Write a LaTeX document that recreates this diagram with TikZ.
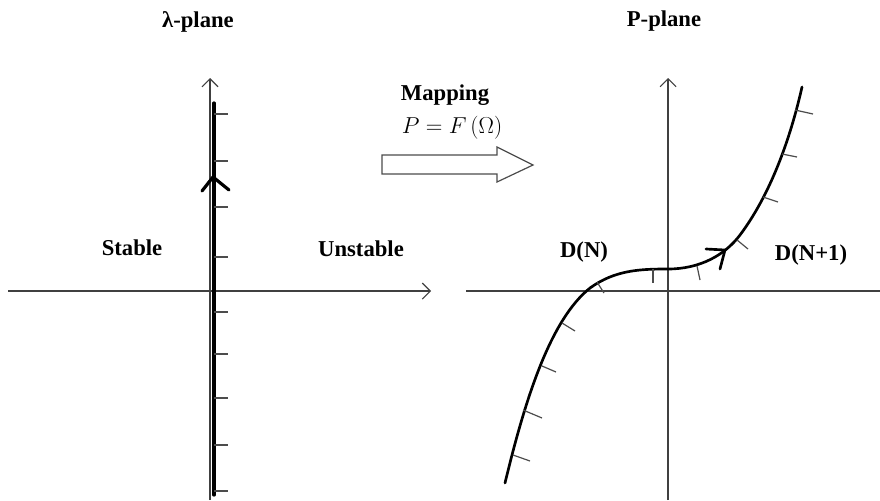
\documentclass[tikz,border=0pt]{standalone}
\usepackage{fontspec}
\setmainfont{Liberation Serif}
\usetikzlibrary{arrows.meta}

\begin{document}
\begin{tikzpicture}[x=0.75pt, y=-0.75pt,
    axis/.style={draw=black!75, line width=0.8pt},
    axisarrow/.style={axis, -{Straight Barb[length=6pt, width=12pt]}},
    thickline/.style={line width=2.4pt, line cap=round, line join=round},
    hatch/.style={draw=black!70, line width=0.9pt},
    txt/.style={font=\fontsize{17}{20}\selectfont\bfseries, inner sep=0pt, anchor=base}
]
    \useasboundingbox (0,0) rectangle (880,500);

    \node[txt] (lplane) at (198,27) {λ-plane};
    \node[txt] (pplane) at (664,26) {P-plane};
    \node[txt] (stable) at (132,255) {Stable};
    \node[txt] (unstable) at (361,256) {Unstable};
    \node[txt] (mapping) at (445,100) {Mapping};
    \node[font=\fontsize{17}{20}\selectfont, inner sep=0pt, anchor=base] (pfo) at (452,133) {$P=F\left(\Omega\right)$};
    \node[txt] (dn) at (584,257) {D(N)};
    \node[txt] (dnone) at (811,260) {D(N+1)};

    \draw[axisarrow] (8,291) -- (431,291);
    \draw[axisarrow] (210,500) -- (210,78);
    \draw[thickline] (214,103) -- (214,495);
    \foreach \y in {114,161,207,257,312,354,398,445,491}
        \draw[hatch] (214,\y) -- (228,\y);
    \draw[thickline] (202,191) -- (213,177) -- (229,190);

    \draw[draw=black!70, line width=0.9pt, fill=white]
        (382,155) -- (497,155) -- (497,147) -- (533,165) -- (497,182) -- (497,174) -- (382,174) -- cycle;

    \draw[axis] (466,291) -- (880,291);
    \draw[axisarrow] (668,500) -- (668,78);
    \draw[line width=2pt, line cap=round]
        (505,483) .. controls (525,400) and (550,320) .. (590,288)
        .. controls (615,270) and (640,269) .. (668,269)
        .. controls (700,269) and (725,255) .. (740,235)
        .. controls (770,195) and (790,140) .. (802,87);
    \foreach \xa/\ya/\xb/\yb in {513/455/530/461, 523/410/542/418, 542/366/556/372, 562/323/575/331,
                                 597/282/604/293, 653/269/653/283, 697/266/700/280,
                                 737/240/748/249, 763/197/778/202, 782/154/797/157, 795/110/813/114}
        \draw[hatch] (\xa,\ya) -- (\xb,\yb);
    \draw[line width=2pt, line cap=round, line join=round] (706,249) -- (725,250) -- (720,269);
\end{tikzpicture}
\end{document}
